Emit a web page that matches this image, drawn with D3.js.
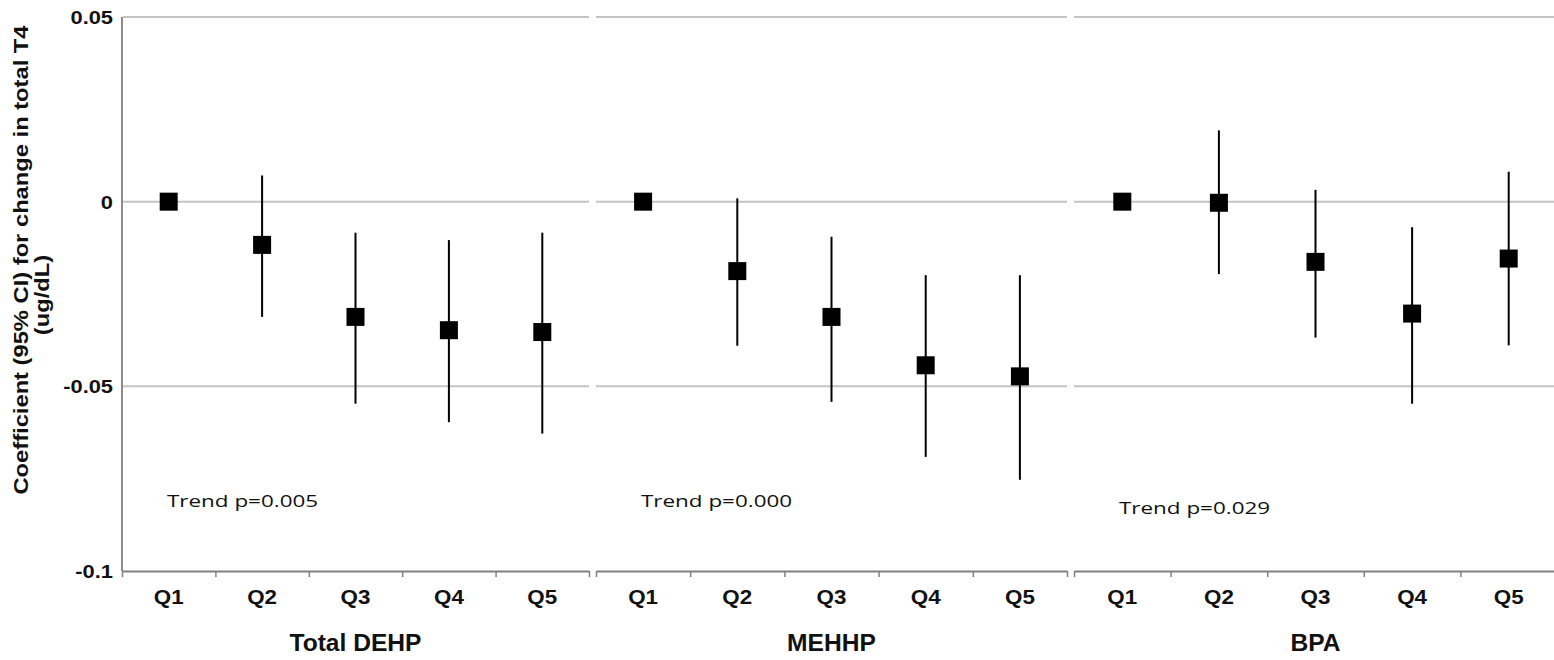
<!DOCTYPE html>
<html>
<head>
<meta charset="utf-8">
<script src="https://cdn.jsdelivr.net/npm/d3@7"></script>
<style>
  body { margin: 0; background: #fff; }
  text { font-family: "Liberation Sans", Arial, sans-serif; fill: #111; }
</style>
</head>
<body>
<svg></svg>
<script>
const width = 1554;
const height = 660;

// data
const groups = ['Total DEHP', 'MEHHP', 'BPA'];
const quintiles = ['Q1', 'Q2', 'Q3', 'Q4', 'Q5'];

const dehpCoef  = [0, -0.0117, -0.0312, -0.0348, -0.0353];
const dehpLower = [0, -0.0312, -0.0547, -0.0597, -0.0628];
const dehpUpper = [0,  0.0071, -0.0084, -0.0104, -0.0084];

const mehhpCoef  = [0, -0.0188, -0.0312, -0.0443, -0.0473];
const mehhpLower = [0, -0.0390, -0.0542, -0.0691, -0.0753];
const mehhpUpper = [0,  0.0009, -0.0095, -0.0199, -0.0199];

const bpaCoef  = [0, -0.0003, -0.0163, -0.0303, -0.0154];
const bpaLower = [0, -0.0196, -0.0368, -0.0547, -0.0389];
const bpaUpper = [0,  0.0193,  0.0032, -0.0069,  0.0081];

const trendP = ['0.005', '0.000', '0.029'];
const yTicks = [0.05, 0, -0.05, -0.1];

// layout
const panelRanges = [[122, 589], [596, 1067], [1074, 1557]];
const trendY = [-0.0828, -0.0828, -0.0845];
const axisY = 571;

const series = [
  { coef: dehpCoef, lower: dehpLower, upper: dehpUpper },
  { coef: mehhpCoef, lower: mehhpLower, upper: mehhpUpper },
  { coef: bpaCoef, lower: bpaLower, upper: bpaUpper }
];

const svg = d3.select('svg')
  .attr('width', width)
  .attr('height', height);

const yScale = d3.scaleLinear()
  .domain([-0.1, 0.05])
  .range([axisY, 17]);

// text with a horizontal stretch, the source image is wider than natural
const addText = (x, y, txt, size, sx, anchor, weight, rotate, family) => {
  const t = svg.append('text')
    .attr('transform', `translate(${x},${y})${rotate ? ' rotate(-90)' : ''} scale(${sx},1)`)
    .attr('text-anchor', anchor)
    .style('font-size', size + 'px')
    .style('font-weight', weight)
    .text(txt);
  if (family) t.style('font-family', family);
  return t;
};

// y axis line
svg.append('line')
  .attr('x1', 122).attr('x2', 122)
  .attr('y1', yScale(0.05)).attr('y2', axisY)
  .attr('stroke', '#8c8c8c')
  .attr('stroke-width', 2);

yTicks.forEach(v => {
  addText(113, yScale(v) + 7, String(v), 19, 1.15, 'end', 'bold');
});

addText(28, 260, 'Coefficient (95% CI) for change in total T4', 21, 1.13, 'middle', 'bold', true);
addText(49, 295, '(ug/dL)', 21, 1.13, 'middle', 'bold', true);

panelRanges.forEach((range, i) => {
  const s = series[i];
  const x = d3.scaleBand().domain(quintiles).range(range);
  const xEdge = d3.scaleLinear().domain([0, quintiles.length]).range(range);

  // gridlines (broken at panel edges)
  svg.append('g')
    .selectAll('line')
    .data(yTicks.filter(v => v > -0.1))
    .enter()
    .append('line')
    .attr('x1', range[0] + (i === 0 ? 1 : 0))
    .attr('x2', range[1])
    .attr('y1', d => yScale(d))
    .attr('y2', d => yScale(d))
    .attr('stroke', '#c4c4c4')
    .attr('stroke-width', 2);

  // category axis, ticks at boundaries
  const ax = svg.append('g')
    .attr('transform', `translate(0,${axisY})`)
    .call(d3.axisBottom(xEdge)
      .tickValues(d3.range(quintiles.length + 1))
      .tickSize(6)
      .tickSizeOuter(0)
      .tickFormat(''));
  ax.select('.domain').attr('stroke', '#808080').attr('stroke-width', 2);
  ax.selectAll('.tick line').attr('stroke', '#808080').attr('stroke-width', 1.5);

  quintiles.forEach(q => {
    addText(x(q) + x.bandwidth() / 2, 604, q, 20, 1.12, 'middle', 'bold');
  });

  addText((range[0] + range[1]) / 2, 651, groups[i], 23, 1.07, 'middle', 'bold');

  // error bars
  svg.append('g')
    .selectAll('line')
    .data(quintiles.filter((q, j) => s.lower[j] !== s.upper[j]))
    .enter()
    .append('line')
    .attr('x1', d => x(d) + x.bandwidth() / 2)
    .attr('x2', d => x(d) + x.bandwidth() / 2)
    .attr('y1', d => yScale(s.upper[quintiles.indexOf(d)]))
    .attr('y2', d => yScale(s.lower[quintiles.indexOf(d)]))
    .attr('stroke', '#000')
    .attr('stroke-width', 2);

  // point estimates
  svg.append('g')
    .selectAll('rect')
    .data(quintiles)
    .enter()
    .append('rect')
    .attr('x', d => x(d) + x.bandwidth() / 2 - 9)
    .attr('y', (d, j) => yScale(s.coef[j]) - 9)
    .attr('width', 18)
    .attr('height', 18)
    .attr('fill', '#000');

  addText(range[0] + 45, yScale(trendY[i]), 'Trend p=' + trendP[i], 17, 1.32, 'start', 'normal', false, '"Open Sans", sans-serif');
});
</script>
</body>
</html>
